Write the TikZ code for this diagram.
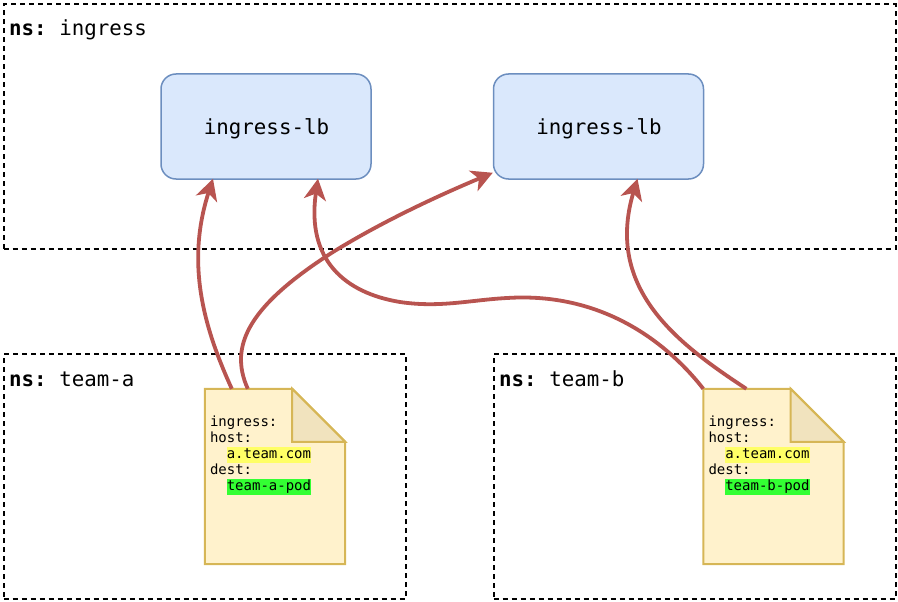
\documentclass[tikz,border=0pt]{standalone}
\usepackage{fontspec}
\setmonofont{DejaVu Sans Mono}
\usetikzlibrary{arrows.meta,calc,positioning}

\definecolor{lbfill}{HTML}{DAE8FC}
\definecolor{lbline}{HTML}{6C8EBF}
\definecolor{docfill}{HTML}{FFF2CC}
\definecolor{docline}{HTML}{D6B656}
\definecolor{foldfill}{HTML}{F1E3BE}
\definecolor{routeline}{HTML}{B85450}
\definecolor{hlhost}{HTML}{FFFF66}
\definecolor{hldest}{HTML}{33FF33}

\newcommand{\hlbox}[2]{{\fboxsep=0pt\colorbox{#1}{\strut #2}}}
\newcommand{\ingressdoc}[3]{%
    \node[docnode] (#1) at (#2) {};
    \path[docshape] (#1.north west) -- ($(#1.north east)+(-53,0)$) -- ($(#1.north east)+(0,53)$)
        -- (#1.south east) -- (#1.south west) -- cycle;
    \path[docshape, fill=foldfill] ($(#1.north east)+(-53,0)$) -- ($(#1.north east)+(-53,53)$)
        -- ($(#1.north east)+(0,53)$) -- cycle;
    \node[doctext] (#1text) at ($(#1.north west)+(5,26.5)$)
        {ingress:\\host:\\\hspace*{16.8pt}\hlbox{hlhost}{a.team.com}\\dest:\\\hspace*{16.8pt}\hlbox{hldest}{team-#3-pod}};
}

\tikzset{
    zone/.style={draw, line width=2pt, dash pattern=on 5pt off 4pt, inner sep=0pt},
    zonelabel/.style={anchor=base west, inner sep=0pt, font=\fontsize{20.8}{24}\selectfont\ttfamily},
    lb/.style={draw=lbline, fill=lbfill, line width=1.5pt, rounded corners=15pt, minimum width=210pt,
        minimum height=105pt, inner sep=0pt, text height=15.5pt, text depth=0pt,
        font=\fontsize{20.8}{24}\selectfont\ttfamily},
    docnode/.style={minimum width=140pt, minimum height=175pt, inner sep=0pt},
    docshape/.style={draw=docline, fill=docfill, line width=2pt, line join=miter},
    doctext/.style={anchor=north west, align=left, inner sep=0pt, font=\fontsize{14}{16}\selectfont\ttfamily},
    route/.style={draw=routeline, line width=3.8pt, -{Stealth[length=21pt,width=22pt,inset=6pt]}},
}

\begin{document}
\begin{tikzpicture}[x=1pt, y=-1pt]
    \useasboundingbox (0,0) rectangle (898,602);

    \node[zone, minimum width=892pt, minimum height=244pt] (nsingress) at (449.5,126.5) {};
    \node[zone, minimum width=402pt, minimum height=245pt] (nsteama)   at (204.5,476.5) {};
    \node[zone, minimum width=402pt, minimum height=245pt] (nsteamb)   [right=86pt of nsteama] {};

    \node[zonelabel] (ingresslabel) at (9,36)  {\textbf{ns:} ingress};
    \node[zonelabel] (teamalabel)   at (9,386) {\textbf{ns:} team-a};
    \node[zonelabel] (teamblabel)   at (499,386) {\textbf{ns:} team-b};

    \node[lb] (lba) at (266,126.5) {\hspace*{1pt}ingress-lb};
    \node[lb] (lbb) [right=121pt of lba] {\hspace*{1pt}ingress-lb};

    \ingressdoc{doca}{275,476.5}{a}
    \ingressdoc{docb}{773.5,476.5}{b}

    \path[route] ($(doca.north west)+(27,0)$) .. controls (205,330) and (185,265) .. ($(lba.south)+(-53,-1)$);
    \path[route] ($(doca.north west)+(43,0)$) .. controls (228,345) and (250,305) .. (333,252)
        .. controls (385,220) and (440,195) .. ($(lbb.south west)+(0,-7)$);
    \path[route] (docb.north west) .. controls (665,340) and (600,292) .. (507,298)
        .. controls (470,300) and (440,308) .. (400,302)
        .. controls (345,293) and (306,260) .. ($(lba.south)+(52,-1)$);
    \path[route] ($(docb.north west)+(43,0)$) .. controls (680,345) and (604,290) .. ($(lbb.south)+(39,-1)$);
\end{tikzpicture}
\end{document}
